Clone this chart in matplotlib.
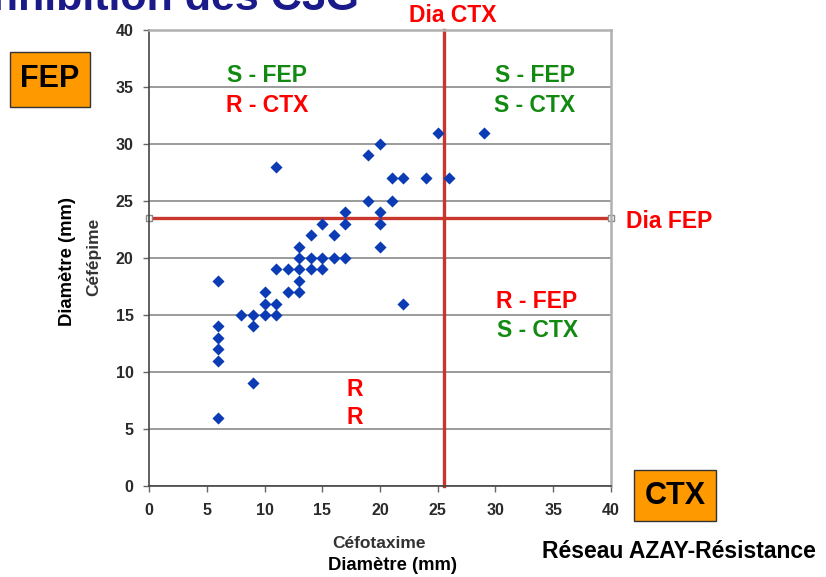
import matplotlib
matplotlib.use("Agg")
import matplotlib.pyplot as plt
from matplotlib.patches import Rectangle

plt.rcParams['font.family'] = ['Liberation Sans', 'DejaVu Sans']

# cefotaxime (x) and cefepime (y) zone diameters, mm
ctx = [6, 6, 6, 6, 6, 6,
       8, 9, 9, 9,
       10, 10, 10,
       11, 11, 11, 11,
       12, 12,
       13, 13, 13, 13, 13,
       14, 14, 14,
       15, 15, 15,
       16, 16,
       17, 17, 17,
       19, 19,
       20, 20, 20, 20,
       21, 21,
       22, 22,
       24, 25, 26, 29]
fep = [6, 11, 12, 13, 14, 18,
       15, 9, 14, 15,
       15, 16, 17,
       15, 16, 19, 28,
       17, 19,
       17, 18, 19, 20, 21,
       19, 20, 22,
       19, 20, 23,
       20, 22,
       20, 23, 24,
       25, 29,
       21, 23, 24, 30,
       25, 27,
       16, 27,
       27, 31, 27, 31]

dia_ctx = 25.5
dia_fep = 23.5
ticks = [0, 5, 10, 15, 20, 25, 30, 35, 40]

red = '#c9362b'
green = '#128a12'
bright_red = '#ff0000'

W, H = 826, 577


def fx(px):
    return px / W


def fy(py):
    return 1 - py / H


fig = plt.figure(figsize=(8.26, 5.77), dpi=100)
ax = fig.add_axes([0.1804, 0.1577, 0.5593, 0.7903])

ax.set_xlim(0, 40)
ax.set_ylim(0, 40)
ax.set_xticks(ticks)
ax.set_yticks(ticks)
ax.yaxis.grid(True, color='#8a8a8a', linewidth=1.2)
ax.set_axisbelow(True)

for s in ['left', 'bottom']:
    ax.spines[s].set_color('#444444')
    ax.spines[s].set_linewidth(1.2)
for s in ['top', 'right']:
    ax.spines[s].set_color('#b0b0b0')
    ax.spines[s].set_linewidth(1.8)

ax.tick_params(direction='out', length=4, color='#666666', width=1)
ax.tick_params(axis='x', pad=8)
ax.tick_params(axis='y', pad=7)
for lab in ax.get_xticklabels() + ax.get_yticklabels():
    lab.set_fontweight('bold')
    lab.set_fontsize(11.5)
    lab.set_color('#2a2a2a')

# breakpoints
ax.axvline(dia_ctx, color=red, linewidth=2.4, zorder=2, clip_on=False)
ax.plot([0, 40], [dia_fep, dia_fep], color=red, linewidth=2.4, zorder=2,
        marker='s', markersize=4, markerfacecolor='white',
        markeredgecolor='#888888', clip_on=False)

ax.scatter(ctx, fep, marker='D', s=38, color='#0b3bb5', zorder=3, linewidths=0)

# quadrant labels
qkw = dict(fontsize=16.5, fontweight='bold', ha='center', va='center')
ax.text(10.2, 36.0, 'S - FEP', color=green, **qkw)
ax.text(10.2, 33.4, 'R - CTX', color=bright_red, **qkw)
ax.text(33.4, 36.0, 'S - FEP', color=green, **qkw)
ax.text(33.4, 33.4, 'S - CTX', color=green, **qkw)
ax.text(33.6, 16.2, 'R - FEP', color=bright_red, **qkw)
ax.text(33.6, 13.6, 'S - CTX', color=green, **qkw)
ax.text(17.8, 8.5, 'R', color=bright_red, **qkw)
ax.text(17.8, 6.0, 'R', color=bright_red, **qkw)

fig.text(fx(453), fy(16), 'Dia CTX', color=bright_red, fontsize=16.5,
         fontweight='bold', ha='center', va='center')
fig.text(fx(626), fy(221), 'Dia FEP', color=bright_red, fontsize=16.5,
         fontweight='bold', ha='left', va='center')

# axis titles
fig.text(fx(68), fy(262), 'Diamètre (mm)', rotation=90, fontsize=13.3,
         fontweight='bold', ha='center', va='center')
fig.text(fx(94), fy(257), 'Céfépime', rotation=90, fontsize=12.5,
         fontweight='bold', ha='center', va='center', color='#333333')
fig.text(fx(379), fy(543), 'Céfotaxime', fontsize=12.5,
         fontweight='bold', ha='center', va='center', color='#333333')
fig.text(fx(393), fy(565), 'Diamètre (mm)', fontsize=13.3,
         fontweight='bold', ha='center', va='center')

# orange boxes
for (x0, y0, x1, y1, label) in [(10, 52, 90, 107, 'FEP'),
                                (634, 470, 716, 521, 'CTX')]:
    fig.patches.append(Rectangle((fx(x0), fy(y1)), fx(x1) - fx(x0),
                                 fy(y0) - fy(y1), transform=fig.transFigure,
                                 facecolor='#ff9900', edgecolor='#333333',
                                 linewidth=1))
    fig.text(fx((x0 + x1) / 2), fy((y0 + y1) / 2), label, fontsize=22,
             fontweight='bold', ha='center', va='center')

fig.text(fx(679), fy(551), 'Réseau AZAY-Résistance', fontsize=16.5,
         fontweight='bold', ha='center', va='center')

# slide title, cut by the top edge
fig.text(fx(-20), fy(10), 'Inhibition des C3G', fontsize=31,
         fontweight='bold', color='#1a1a8a', ha='left', va='baseline')

fig.savefig('out.png', dpi=100)
